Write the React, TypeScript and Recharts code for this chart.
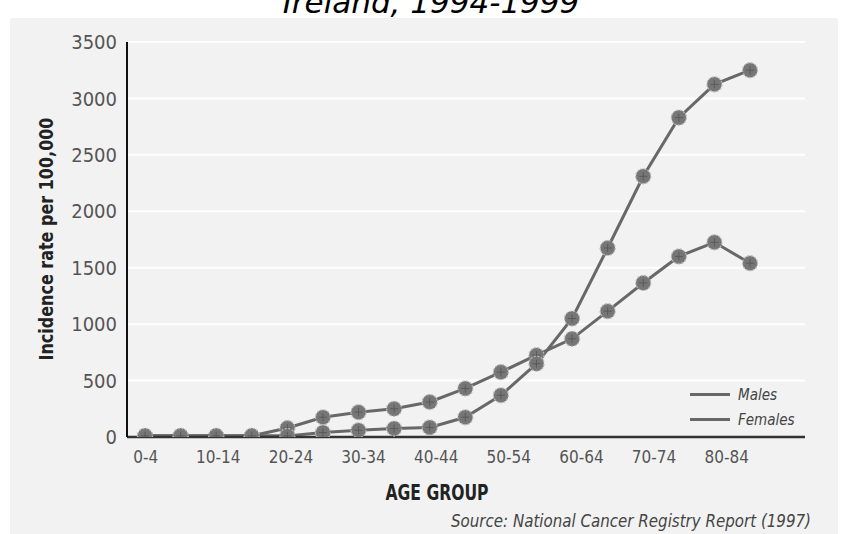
import React from 'react';
import { LineChart, Line, XAxis, YAxis, CartesianGrid, Legend } from 'recharts';

const ageGroups = ['0-4', '5-9', '10-14', '15-19', '20-24', '25-29', '30-34', '35-39', '40-44', '45-49', '50-54', '55-59', '60-64', '65-69', '70-74', '75-79', '80-84', '85+'];
const males = [10, 10, 10, 10, 10, 40, 60, 75, 85, 175, 370, 650, 1050, 1675, 2310, 2830, 3125, 3250];
const females = [10, 10, 10, 10, 80, 175, 220, 250, 310, 430, 575, 725, 870, 1115, 1365, 1600, 1725, 1540];
const yTicks = [0, 500, 1000, 1500, 2000, 2500, 3000, 3500];
const xTickLabels = ['0-4', '10-14', '20-24', '30-34', '40-44', '50-54', '60-64', '70-74', '80-84'];

const chartData = ageGroups.map((g, i) => ({ idx: i, group: g, males: males[i], females: females[i] }));

const LINE = '#686868';
const FONT = '"DejaVu Sans Condensed", "DejaVu Sans", sans-serif';

// hatched circle marker like the scanned original
const Marker = (props: any) => {
  const { cx, cy, index } = props;
  if (cx == null || cy == null) return null;
  return (
    <g key={index}>
      <circle cx={cx} cy={cy} r={7.5} fill="#767676" stroke="#b8b8b8" strokeWidth={1.3} strokeDasharray="2 1.6" />
      <line x1={cx - 4} y1={cy} x2={cx + 4} y2={cy} stroke="#5a5a5a" strokeWidth={1} />
      <line x1={cx} y1={cy - 4} x2={cx} y2={cy + 4} stroke="#5a5a5a" strokeWidth={1} />
    </g>
  );
};

const LegendBox = () => (
  <div style={{ fontFamily: FONT, fontStyle: 'italic', fontSize: 15, color: '#444' }}>
    {['Males', 'Females'].map((name) => (
      <div key={name} style={{ display: 'flex', alignItems: 'center', height: 25 }}>
        <span style={{ display: 'inline-block', width: 40, height: 3, background: LINE, marginRight: 8 }} />
        <span>{name}</span>
      </div>
    ))}
  </div>
);

export default function App() {
  return (
    <div style={{ position: 'absolute', left: 0, top: 0, width: 841, height: 534, background: '#fff', overflow: 'hidden' }}>
      <div style={{ position: 'absolute', left: 10, top: 18, width: 828, height: 516, background: '#f2f2f2' }} />
      <div style={{ position: 'absolute', left: 0, top: 0 }}>
        <LineChart width={841} height={534} data={chartData} margin={{ top: 42, right: 36, left: 67, bottom: 47 }}>
          <CartesianGrid xAxisId="lab" horizontal vertical={false} stroke="#ffffff" strokeWidth={2} />
          <XAxis
            xAxisId="pts"
            dataKey="idx"
            type="number"
            domain={[-0.506, 18.545]}
            allowDataOverflow
            hide
          />
          <XAxis
            xAxisId="lab"
            dataKey="idx"
            type="number"
            domain={[-0.2575, 9.078]}
            allowDataOverflow
            ticks={[0, 1, 2, 3, 4, 5, 6, 7, 8]}
            tickFormatter={(v: number) => xTickLabels[v] ?? ''}
            interval={0}
            height={50}
            tickLine={false}
            tickSize={0}
            tickMargin={14}
            axisLine={{ stroke: '#333', strokeWidth: 2.5 }}
            tick={{ fill: '#555', fontSize: 17, fontFamily: FONT }}
          />
          <YAxis
            domain={[0, 3500]}
            ticks={yTicks}
            allowDataOverflow
            width={60}
            tickLine={false}
            tickSize={0}
            tickMargin={10}
            axisLine={{ stroke: '#111', strokeWidth: 2 }}
            tick={{ fill: '#555', fontSize: 20, fontFamily: FONT }}
          />
          <Legend
            layout="vertical"
            align="center"
            verticalAlign="middle"
            content={<LegendBox />}
            wrapperStyle={{ left: 690, top: 382, width: 130 }}
          />
          <Line
            xAxisId="pts"
            type="linear"
            dataKey="females"
            name="Females"
            stroke={LINE}
            strokeWidth={3}
            dot={<Marker />}
            activeDot={false}
            isAnimationActive={false}
          />
          <Line
            xAxisId="pts"
            type="linear"
            dataKey="males"
            name="Males"
            stroke={LINE}
            strokeWidth={3}
            dot={<Marker />}
            activeDot={false}
            isAnimationActive={false}
          />
          <text x={431} y={13} textAnchor="middle" fontFamily='"DejaVu Sans", sans-serif' fontStyle="italic" fontSize={31} fill="#000">
            Ireland, 1994-1999
          </text>
          <text x={53} y={239} transform="rotate(-90, 53, 239)" textAnchor="middle" fontFamily={FONT} fontWeight="bold" fontSize={19} textLength={243} lengthAdjust="spacingAndGlyphs" fill="#222">
            Incidence rate per 100,000
          </text>
          <text x={437} y={500} textAnchor="middle" fontFamily={FONT} fontWeight="bold" fontSize={21} textLength={103} lengthAdjust="spacingAndGlyphs" fill="#222">
            AGE GROUP
          </text>
          <text x={811} y={527} textAnchor="end" fontFamily={FONT} fontStyle="italic" fontSize={17} textLength={360} lengthAdjust="spacingAndGlyphs" fill="#444">
            Source: National Cancer Registry Report (1997)
          </text>
        </LineChart>
      </div>
    </div>
  );
}
